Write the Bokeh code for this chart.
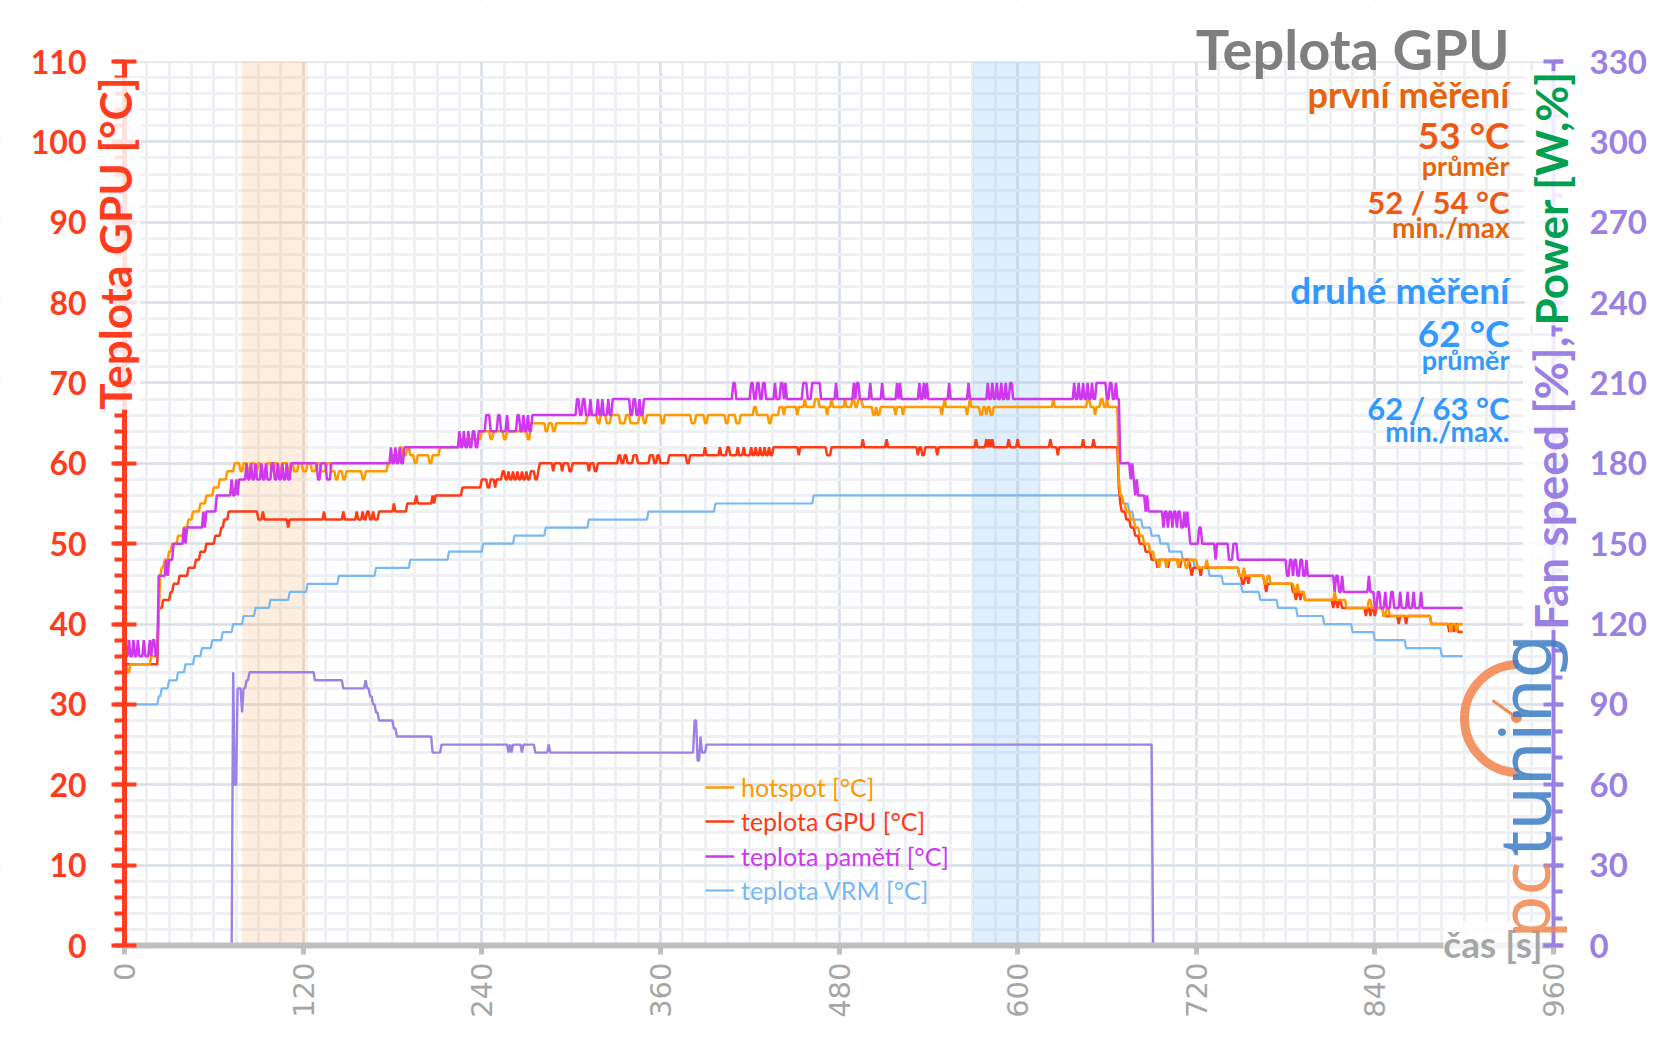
import math
from bokeh.plotting import figure
from bokeh.models import Range1d, LinearAxis, FixedTicker, BoxAnnotation, Label, Legend, LegendItem
from bokeh.embed import file_html
from bokeh.resources import INLINE
from bokeh.core.properties import value

# ---------------- data (run-length: [start second, value]) ----------------
T_END = 899
X_TICKS = list(range(0, 961, 120))
X_MINOR = list(range(0, 961, 15))
Y_TICKS = list(range(0, 111, 10))
Y_MINOR = list(range(0, 111, 2))
R_TICKS = list(range(0, 331, 30))
R_MINOR = list(range(0, 331, 10))

HOTSPOT = [
[0,35],[2,34],[4,35],[18,36],[22,37],[23,41],[24,46],[25,47],[27,48],[30,49],[32,50],[36,51],[40,52],[43,53],[46,54],[51,55],[55,56],[60,57],[64,58],[69,59],[74,60],[78,59],[80,60],[83,59],[85,60],[88,59],[90,60],[92,59],[96,60],[99,59],[101,60],[104,59],[106,60],[110,59],[112,60],[114,59],[117,60],[120,59],[123,60],[126,59],[129,60],[132,59],[136,60],[139,59],[142,58],[144,59],[147,58],[149,59],[160,58],[162,59],[177,60],[180,61],[185,62],[187,61],[190,62],[192,61],[195,60],[197,61],[205,60],[207,61],[212,62],[226,63],[240,64],[246,63],[248,64],[255,63],[257,64],[271,63],[273,65],[283,64],[285,65],[288,64],[290,65],[311,66],[318,65],[320,66],[324,65],[327,66],[333,65],[337,66],[340,65],[346,66],[349,65],[351,66],[361,65],[363,66],[381,65],[384,66],[390,65],[392,66],[404,65],[406,66],[411,65],[414,66],[423,67],[425,66],[433,65],[435,66],[440,67],[443,66],[444,67],[452,66],[453,67],[457,68],[458,67],[464,68],[467,67],[472,66],[473,67],[475,68],[476,67],[484,68],[485,67],[489,68],[491,67],[493,68],[496,67],[503,66],[505,67],[506,66],[508,67],[518,66],[519,67],[523,66],[524,67],[549,66],[550,67],[551,68],[552,67],[566,66],[567,67],[568,68],[569,67],[575,66],[577,67],[579,66],[580,67],[582,66],[584,67],[624,68],[625,67],[647,68],[649,67],[652,66],[653,67],[656,68],[658,67],[660,68],[661,67],[668,58],[669,56],[671,55],[673,54],[676,53],[679,52],[682,51],[685,50],[689,49],[692,48],[695,47],[696,48],[700,47],[701,48],[708,47],[709,48],[713,47],[715,48],[721,47],[727,48],[728,47],[749,46],[752,47],[753,46],[766,45],[768,46],[770,45],[786,44],[788,45],[789,44],[793,43],[813,44],[814,43],[821,42],[836,43],[838,42],[846,41],[848,42],[850,41],[878,40],[891,39],[892,40],[895,39],[896,40]
]

GPU = [
[0,35],[23,42],[26,43],[31,44],[33,45],[37,46],[43,47],[48,48],[51,49],[55,50],[61,51],[65,52],[67,53],[70,54],[90,53],[93,54],[94,53],[110,52],[111,53],[134,54],[135,53],[147,54],[148,53],[156,54],[157,53],[160,54],[161,53],[163,54],[165,53],[167,54],[168,53],[171,54],[181,55],[182,54],[190,55],[196,56],[197,55],[207,56],[208,55],[209,56],[227,57],[240,58],[244,57],[246,58],[249,57],[250,58],[254,59],[256,58],[258,59],[259,58],[261,59],[262,58],[264,59],[265,58],[267,59],[268,58],[270,59],[271,58],[273,59],[276,58],[278,59],[279,60],[288,59],[289,60],[294,59],[295,60],[299,59],[301,60],[312,59],[313,60],[316,59],[318,60],[332,61],[334,60],[336,61],[338,60],[342,61],[345,60],[353,61],[356,60],[358,61],[360,60],[366,61],[378,60],[380,61],[390,62],[391,61],[400,62],[401,61],[405,62],[407,61],[412,62],[413,61],[416,62],[417,61],[421,62],[422,61],[424,62],[425,61],[427,62],[428,61],[430,62],[431,61],[433,62],[434,61],[436,62],[453,61],[454,62],[472,61],[475,62],[496,63],[497,62],[512,63],[513,62],[533,61],[534,62],[536,61],[538,62],[546,61],[547,62],[572,63],[573,62],[579,63],[580,62],[581,63],[582,62],[583,63],[584,62],[594,63],[595,62],[600,63],[601,62],[622,63],[623,62],[627,61],[628,62],[644,63],[645,62],[651,63],[652,62],[668,57],[669,55],[670,54],[673,53],[676,52],[679,51],[682,50],[686,49],[690,48],[694,47],[695,48],[701,47],[702,48],[709,47],[710,48],[716,47],[717,46],[718,47],[723,46],[724,47],[749,46],[751,45],[753,46],[755,45],[756,46],[766,45],[767,44],[768,45],[785,44],[787,43],[788,44],[790,43],[791,44],[793,43],[812,42],[813,43],[815,42],[816,43],[818,42],[834,41],[835,42],[837,41],[838,42],[840,41],[841,42],[846,41],[856,40],[857,41],[861,40],[862,41],[878,40],[890,39],[891,40],[893,39],[894,40],[896,39]
]

MEMORY = [
[0,36],[3,38],[4,36],[6,38],[7,36],[9,38],[10,36],[13,38],[14,36],[17,38],[18,36],[19,38],[21,36],[23,46],[28,48],[29,46],[30,48],[33,50],[40,52],[41,50],[42,52],[53,54],[54,52],[55,54],[62,56],[72,58],[73,56],[75,58],[76,56],[77,58],[82,60],[83,58],[85,60],[86,58],[88,60],[89,58],[92,60],[93,58],[95,60],[96,58],[99,60],[101,58],[103,60],[104,58],[106,60],[107,58],[109,60],[110,58],[112,60],[130,58],[132,60],[136,58],[139,60],[179,62],[180,60],[182,62],[183,60],[185,62],[186,60],[188,62],[225,64],[226,62],[228,64],[229,62],[231,64],[232,62],[234,64],[236,62],[238,64],[243,66],[246,64],[251,66],[253,64],[257,66],[258,64],[264,66],[266,64],[268,66],[269,64],[271,66],[272,64],[274,66],[304,68],[306,66],[308,68],[310,66],[313,68],[314,66],[318,68],[319,66],[321,68],[322,66],[325,68],[326,66],[328,68],[340,66],[342,68],[344,66],[346,68],[347,66],[349,68],[409,70],[411,68],[421,70],[423,68],[425,70],[427,68],[429,70],[431,68],[437,70],[438,68],[441,70],[443,68],[444,70],[445,68],[456,70],[459,68],[462,70],[468,68],[478,70],[479,68],[490,70],[491,68],[492,70],[494,68],[501,70],[502,68],[509,70],[510,68],[519,70],[520,68],[521,70],[522,68],[534,70],[535,68],[537,70],[538,68],[539,70],[540,68],[554,70],[555,68],[567,70],[568,68],[580,70],[581,68],[583,70],[584,68],[586,70],[587,68],[589,70],[590,68],[592,70],[593,68],[595,70],[597,68],[638,70],[639,68],[641,70],[642,68],[644,70],[645,68],[647,70],[648,68],[650,70],[651,68],[653,70],[660,68],[662,70],[664,68],[666,70],[667,68],
[669,60],[676,58],[677,60],[678,58],[679,56],[680,58],[681,56],[686,54],[687,56],[688,54],[698,52],[699,54],[701,52],[702,54],[704,52],[705,54],[707,52],[708,54],[710,52],[712,54],[713,52],[714,54],[715,52],[716,50],[722,52],[724,50],[733,48],[734,50],[742,48],[745,50],[748,48],[781,46],[783,48],[785,46],[786,48],[788,46],[790,48],[792,46],[794,48],[795,46],[813,44],[814,46],[816,44],[818,46],[819,44],[836,46],[837,44],[840,42],[842,44],[844,42],[847,44],[848,42],[851,44],[853,42],[857,44],[858,42],[862,44],[863,42],[866,44],[867,42],[871,44],[872,42]
]

VRM = [
[0,30],[23,31],[25,32],[30,33],[36,34],[41,35],[47,36],[52,37],[59,38],[66,39],[73,40],[80,41],[88,42],[98,43],[111,44],[123,45],[144,46],[169,47],[192,48],[218,49],[241,50],[262,51],[283,52],[312,53],[352,54],[397,55],[463,56],[671,55],[675,54],[678,53],[684,52],[690,51],[696,50],[702,49],[711,48],[719,47],[729,46],[738,45],[751,44],[763,43],[775,42],[788,41],[806,40],[825,39],[840,38],[861,37],[885,36]
]

FAN = [
[0,0],[73,102],[74,60],[76,96],[79,87],[80,96],[82,99],[84,102],[128,99],[147,96],[162,99],[163,96],[165,93],[167,90],[169,87],[171,84],[181,81],[183,78],[207,72],[213,75],[258,72],[259,75],[260,72],[261,75],[267,72],[268,75],[276,72],[285,75],[286,72],[383,84],[385,69],[387,78],[388,72],[391,75],[691,0]
]

FIRST_RUN = (79, 123)
SECOND_RUN = (570, 615)

LEGEND_LABELS = ["hotspot [°C]", "teplota GPU [°C]", "teplota pamětí [°C]", "teplota VRM [°C]"]

# ---------------- styling ----------------
C_HOT = "#ff9900"
C_GPU = "#ff3a14"
C_MEM = "#cf38ee"
C_VRM = "#78b8f5"
C_FAN = "#9d82e6"
C_RED_AX = "#ff3c1e"
C_PURPLE_AX = "#9b80e4"
C_GRAY = "#a6a6a6"
FONT = "Lato"
BASE_K = 0.34     # alphabetic-baseline correction (fraction of font size)

W, H = 1650, 1040
PAGE_OFF = 0
# page-pixel placement of the value area
X0_PX, X1_PX = 124.0, 1553.0      # x = 0 and x = 960
Y0_PX, Y1_PX = 945.0, 61.0        # y = 0 and y = 110
SX = (X1_PX - X0_PX) / 960.0
SY = (Y0_PX - Y1_PX) / 110.0
XS = (PAGE_OFF - X0_PX) / SX
XE = 960 + (PAGE_OFF + W - X1_PX) / SX
YE = 110 + (Y1_PX - PAGE_OFF) / SY
YS = -(PAGE_OFF + H - Y0_PX) / SY


def runs_to_xy(runs, t_end):
    xs, ys = [], []
    for i, (t, v) in enumerate(runs):
        nxt = runs[i + 1][0] if i + 1 < len(runs) else t_end + 1
        xs.append(t); ys.append(v)
        if nxt - 1 > t:
            xs.append(nxt - 1); ys.append(v)
    return xs, ys


def px2x(px):
    return (px - X0_PX) / SX


def py2y(py):
    return (Y0_PX - py) / SY


p = figure(width=W, height=H, x_range=Range1d(XS, XE), y_range=Range1d(YS, YE),
           output_backend="svg", toolbar_location=None, min_border=0)
p.extra_y_ranges = {"right": Range1d(3 * YS, 3 * YE)}
p.outline_line_color = None
p.background_fill_color = "white"
p.border_fill_color = "white"

xt = FixedTicker(ticks=X_TICKS, minor_ticks=X_MINOR)
yt = FixedTicker(ticks=Y_TICKS, minor_ticks=Y_MINOR)
p.xaxis.ticker = xt
p.xgrid.ticker = xt
p.left[0].ticker = yt
p.ygrid.ticker = yt

for g in (p.xgrid, p.ygrid):
    g.grid_line_color = "#dbe0e8"
    g.grid_line_width = 2.5
    g.minor_grid_line_color = "#eef0f4"
    g.minor_grid_line_width = 3

# measurement bands + white masks outside the value area (hide grid overhang)
p.add_layout(BoxAnnotation(left=FIRST_RUN[0], right=FIRST_RUN[1], bottom=0, top=110,
                           fill_color="#f5a860", fill_alpha=0.2, line_color=None, level="underlay"))
p.add_layout(BoxAnnotation(left=SECOND_RUN[0], right=SECOND_RUN[1], bottom=0, top=110,
                           fill_color="#8ec5f5", fill_alpha=0.28, line_color=None, level="underlay"))
for kw in ({"right": 0}, {"left": 960}, {"bottom": 110}, {"top": 0}):
    p.add_layout(BoxAnnotation(fill_color="white", fill_alpha=1.0, line_color=None,
                               level="underlay", **kw))

# bottom axis
ax = p.below[0]
ax.fixed_location = 0
ax.bounds = (0, 960)
ax.axis_line_color = "#bfbfbf"
ax.axis_line_width = 6
ax.major_tick_line_color = "#bfbfbf"
ax.major_tick_line_width = 5
ax.major_tick_in = 0
ax.major_tick_out = 9
ax.minor_tick_line_color = None
ax.major_label_orientation = math.pi / 2
ax.major_label_text_font = "DejaVu Sans"
ax.major_label_text_font_size = "29px"
ax.major_label_text_color = C_GRAY
ax.major_label_standoff = 8

# left axis
al = p.left[0]
al.fixed_location = 0
al.bounds = (0, 110)
al.axis_line_color = C_RED_AX
al.axis_line_width = 5
al.major_tick_line_color = C_RED_AX
al.major_tick_line_width = 4
al.major_tick_in = 12
al.major_tick_out = 13
al.minor_tick_line_color = C_RED_AX
al.minor_tick_line_width = 4
al.minor_tick_in = 0
al.minor_tick_out = 10
al.major_label_text_color = C_RED_AX
al.major_label_text_font = FONT
al.major_label_text_font_style = "bold"
al.major_label_text_font_size = "32px"
al.major_label_standoff = 25

# right axis
ar = LinearAxis(y_range_name="right", ticker=FixedTicker(ticks=R_TICKS, minor_ticks=R_MINOR),
                fixed_location=960, bounds=(0, 330))
ar.axis_line_color = C_PURPLE_AX
ar.axis_line_width = 4
ar.major_tick_line_color = C_PURPLE_AX
ar.major_tick_line_width = 4
ar.major_tick_in = 10
ar.major_tick_out = 10
ar.minor_tick_line_color = C_PURPLE_AX
ar.minor_tick_line_width = 4
ar.minor_tick_in = 0
ar.minor_tick_out = 9
ar.major_label_text_color = C_PURPLE_AX
ar.major_label_text_font = FONT
ar.major_label_text_font_style = "bold"
ar.major_label_text_font_size = "33px"
ar.major_label_standoff = 26
p.add_layout(ar, "right")

# series
x, y = runs_to_xy(VRM, T_END)
r_vrm = p.line(x, y, line_color=C_VRM, line_width=2.2)
x, y = runs_to_xy(FAN, T_END)
r_fan = p.line(x, y, line_color=C_FAN, line_width=2.4, y_range_name="right")
x, y = runs_to_xy(GPU, T_END)
r_gpu = p.line(x, y, line_color=C_GPU, line_width=2.5)
x, y = runs_to_xy(HOTSPOT, T_END)
r_hot = p.line(x, y, line_color=C_HOT, line_width=2.5)
x, y = runs_to_xy(MEMORY, T_END)
r_mem = p.line(x, y, line_color=C_MEM, line_width=2.5)

# legends (one per entry so every label gets its own colour)
leg_specs = [(LEGEND_LABELS[0], r_hot, C_HOT), (LEGEND_LABELS[1], r_gpu, C_GPU),
             (LEGEND_LABELS[2], r_mem, C_MEM), (LEGEND_LABELS[3], r_vrm, C_VRM)]
for i, (lab, rr, col) in enumerate(leg_specs):
    yc = 787 + 34.3 * i          # page px of row centre
    leg = Legend(items=[LegendItem(label=value(lab), renderers=[rr])],
                 location=(705 - PAGE_OFF, (PAGE_OFF + H) - yc - 15),
                 label_text_color=col, label_text_font=FONT, label_text_font_size="25px",
                 glyph_width=29, glyph_height=30, label_height=30, label_standoff=7,
                 padding=0, margin=0, spacing=0, border_line_color=None,
                 background_fill_alpha=0)
    p.add_layout(leg)

# axis titles
p.add_layout(Label(x=px2x(114), y=py2y(77), text="Teplota GPU [°C]", angle=math.pi / 2,
                   text_align="right", text_baseline="middle", text_color=C_RED_AX,
                   text_font=FONT, text_font_style="bold", text_font_size="44px",
                   background_fill_color="white", background_fill_alpha=0.85))
p.add_layout(Label(x=px2x(1550), y=py2y(325), text="Power [W,%]", angle=math.pi / 2,
                   text_align="left", text_baseline="middle", text_color="#00a050",
                   text_font=FONT, text_font_style="bold", text_font_size="44px",
                   background_fill_color="white", background_fill_alpha=0.85))
p.add_layout(Label(x=px2x(1550), y=py2y(336), text="Fan speed [%],", angle=math.pi / 2,
                   text_align="right", text_baseline="middle", text_color=C_PURPLE_AX,
                   text_font=FONT, text_font_style="bold", text_font_size="46px",
                   background_fill_color="white", background_fill_alpha=0.85))
p.add_layout(Label(x=px2x(1542), y=py2y(956 - BASE_K * 37), text="čas [s]", text_align="right",
                   text_baseline="alphabetic", text_color=C_GRAY, text_font=FONT,
                   text_font_style="bold", text_font_size="37px",
                   background_fill_color="white", background_fill_alpha=0.8))

# title block (right aligned)
C_OR1 = "#e4650c"
C_OR2 = "#ee5812"
C_BLUE = "#3399ff"
texts = [
    ("Teplota GPU", 67, 56, "#7f7f7f"),
    ("první měření", 106, 36, C_OR1),
    ("53 °C", 147, 37, C_OR2),
    ("průměr", 174, 27, C_OR1),
    ("52 / 54 °C", 212, 31, C_OR2),
    ("min./max", 236, 28, C_OR1),
    ("druhé měření", 302, 37, C_BLUE),
    ("62 °C", 345, 37, C_BLUE),
    ("průměr", 368, 27, C_BLUE),
    ("62 / 63 °C", 418, 31, C_BLUE),
    ("min./max.", 440, 28, C_BLUE),
]
for t, by, fs, col in texts:
    p.add_layout(Label(x=px2x(1509), y=py2y(by - BASE_K * fs), text=t, text_align="right",
                       text_baseline="alphabetic", text_color=col, text_font=FONT,
                       text_font_style="bold", text_font_size=f"{fs}px"))

# pctuning watermark
LOGO_CX, LOGO_CY = 1518, 718
p.arc(x=[px2x(LOGO_CX)], y=[py2y(LOGO_CY)], radius=54, radius_units="screen",
      start_angle=math.pi / 2, end_angle=3 * math.pi / 2, line_color="#f28a55",
      line_width=9, line_alpha=0.9)
p.segment(x0=[px2x(LOGO_CX - 2)], y0=[py2y(LOGO_CY - 1)], x1=[px2x(LOGO_CX - 26)],
          y1=[py2y(LOGO_CY - 18)], line_color="#f28a55", line_width=3)
p.scatter(x=[px2x(LOGO_CX - 2)], y=[py2y(LOGO_CY - 1)], size=10, color="#f28a55")
p.add_layout(Label(x=px2x(1522), y=py2y(938), text="pc", angle=math.pi / 2, text_align="left",
                   text_baseline="alphabetic", text_color="#f0874f", text_alpha=0.85,
                   text_font="Noto Sans", text_font_size="70px"))
p.add_layout(Label(x=px2x(1522), y=py2y(856), text="tuning", angle=math.pi / 2, text_align="left",
                   text_baseline="alphabetic", text_color="#3b7cc4", text_alpha=0.85,
                   text_font="Noto Sans", text_font_size="72px"))

open("out.html", "w").write(file_html(p, INLINE))
